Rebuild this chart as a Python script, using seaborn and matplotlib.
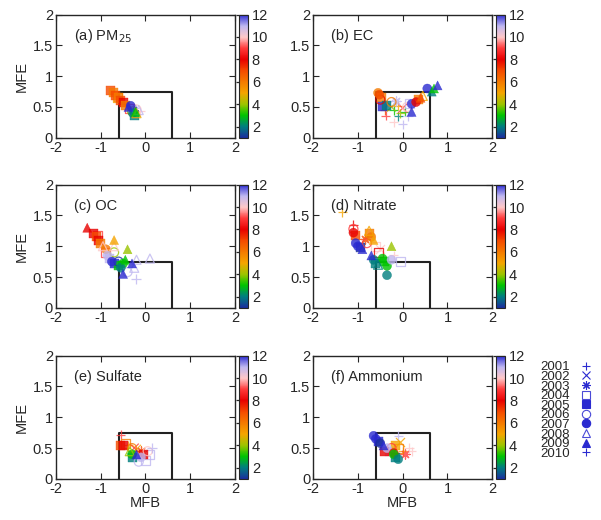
import pandas as pd
import matplotlib.pyplot as plt
import seaborn as sns
from matplotlib.colors import LinearSegmentedColormap, Normalize
from matplotlib.cm import ScalarMappable
from matplotlib.lines import Line2D

sns.set_style('ticks')
plt.rcParams['font.family'] = ['Liberation Sans', 'DejaVu Sans']
plt.rcParams['font.size'] = 10
plt.rcParams['axes.unicode_minus'] = False

# performance goal box
mfb_goal = 0.6
mfe_goal = 0.75

years = [2001, 2002, 2003, 2004, 2005, 2006, 2007, 2008, 2009, 2010]
year_markers = ['+', 'x', (8, 2, 0), 's', 's', 'o', 'o', '^', '^', '+']
year_open = [False, False, False, True, False, True, False, True, False, False]

month_colors = ['#1a2f9e', '#007f7f', '#00c400', '#9ec400', '#f5a500', '#f57a00',
                '#f54a00', '#e80000', '#ff3a3a', '#ffc8c8', '#c0b8f0', '#2a2ad0']

# (a) PM25
pm_mfb = [-0.78, -0.72, -0.66, -0.6, -0.55, -0.5, -0.45, -0.62, -0.38, -0.33, -0.3, -0.25,
          -0.2, -0.15, -0.28, -0.35, -0.28, -0.25, -0.22, -0.3, -0.2, -0.12]
pm_mfe = [0.77, 0.73, 0.69, 0.65, 0.61, 0.57, 0.53, 0.66, 0.5, 0.52, 0.47, 0.48,
          0.46, 0.45, 0.45, 0.48, 0.4, 0.37, 0.42, 0.43, 0.4, 0.43]
pm_month = [7, 6, 7, 6, 7, 8, 6, 5, 12, 12, 11, 11, 10, 11, 1, 9, 2, 2, 3, 4, 5, 10]
pm_year = [2005, 2005, 2005, 2005, 2005, 2005, 2005, 2004, 2009, 2007, 2002, 2001,
           2006, 2008, 2003, 2004, 2007, 2005, 2009, 2006, 2008, 2001]

# (b) EC
ec_mfb = [-0.55, -0.52, -0.48, -0.5, -0.45, -0.35, -0.4, -0.38, -0.2, 0.0, -0.3, -0.25,
          -0.2, -0.15, -0.1, -0.05, 0.0, 0.05, 0.1, 0.15, 0.2, 0.2, 0.12, 0.3, 0.35,
          0.45, 0.4, 0.55, 0.65, 0.7, 0.78, -0.25, -0.1]
ec_mfe = [0.73, 0.7, 0.65, 0.62, 0.5, 0.52, 0.45, 0.36, 0.25, 0.22, 0.55, 0.5,
          0.45, 0.6, 0.52, 0.4, 0.48, 0.42, 0.5, 0.55, 0.55, 0.42, 0.35, 0.58, 0.62,
          0.68, 0.65, 0.8, 0.75, 0.8, 0.85, 0.58, 0.35]
ec_month = [6, 7, 6, 8, 12, 2, 7, 9, 10, 11, 11, 4, 3, 11, 5, 4, 9, 3, 10, 11, 12, 12, 11,
            8, 6, 5, 7, 12, 2, 3, 12, 6, 2]
ec_year = [2007, 2007, 2005, 2006, 2005, 2005, 2001, 2001, 2001, 2010, 2002, 2002, 2001,
           2003, 2001, 2010, 2002, 2001, 2006, 2004, 2007, 2009, 2001, 2007, 2005, 2008,
           2009, 2007, 2009, 2009, 2009, 2006, 2001]

# (c) OC
oc_mfb = [-1.3, -1.15, -1.1, -1.05, -1.0, -1.08, -0.95, -0.7, -0.7, -0.4, -0.7, -0.88,
          -0.85, -0.8, -0.75, -0.7, -0.45, -0.5, -0.3, -0.5, 0.1, -0.2, -0.25, -0.4,
          -0.2, -0.6, -0.55, -0.9, -0.6]
oc_mfe = [1.3, 1.2, 1.15, 1.1, 1.05, 1.18, 1.0, 1.0, 1.1, 0.95, 0.9, 0.95,
          0.85, 0.8, 0.75, 0.72, 0.78, 0.72, 0.72, 0.55, 0.8, 0.78, 0.65, 0.58,
          0.47, 0.68, 0.65, 0.9, 0.75]
oc_month = [8, 8, 7, 8, 6, 9, 10, 10, 5, 4, 4, 6, 11, 11, 12, 12, 3, 3, 12, 12, 11, 11,
            11, 11, 11, 3, 2, 9, 1]
oc_year = [2009, 2005, 2005, 2005, 2005, 2004, 2008, 2008, 2009, 2009, 2006, 2007, 2007,
           2005, 2007, 2005, 2009, 2007, 2009, 2009, 2008, 2008, 2008, 2006, 2010, 2005,
           2007, 2004, 2006]

# (d) Nitrate
no_mfb = [-1.35, -1.1, -1.1, -1.1, -1.05, -1.05, -1.0, -0.95, -0.9, -0.75, -0.7, -0.65,
          -0.75, -0.6, -0.5, -0.25, -0.7, -0.65, -0.6, -0.55, -0.45, -0.4, -0.35, -0.35,
          -0.25, -0.05, -0.2, -0.85, -0.8, -0.55]
no_mfe = [1.55, 1.35, 1.28, 1.22, 1.18, 1.05, 1.0, 0.98, 0.95, 1.2, 1.15, 1.1,
          1.25, 1.0, 0.95, 1.0, 0.85, 0.78, 0.72, 0.7, 0.8, 0.75, 0.68, 0.53,
          0.78, 0.75, 0.85, 1.12, 1.05, 0.9]
no_month = [5, 8, 9, 8, 7, 12, 12, 1, 12, 6, 6, 5, 5, 10, 10, 4, 12, 2, 2, 2, 3, 3, 3, 2,
            11, 11, 10, 7, 9, 8]
no_year = [2001, 2001, 2006, 2007, 2005, 2007, 2007, 2005, 2009, 2005, 2007, 2009, 2008,
           2004, 2002, 2009, 2009, 2007, 2005, 2008, 2007, 2005, 2007, 2007, 2007, 2004,
           2001, 2003, 2006, 2004]

# (e) Sulfate
so_mfb = [-0.55, -0.5, -0.45, -0.55, -0.4, -0.3, -0.2, -0.35, -0.3, -0.3, -0.2, -0.1,
          0.0, -0.15, 0.1, 0.05, 0.15, -0.05, -0.1, -0.25]
so_mfe = [0.55, 0.55, 0.58, 0.72, 0.55, 0.5, 0.48, 0.45, 0.4, 0.35, 0.4, 0.35,
          0.3, 0.28, 0.4, 0.45, 0.5, 0.4, 0.45, 0.5]
so_month = [7, 8, 6, 9, 5, 6, 5, 4, 3, 2, 12, 11, 11, 11, 11, 10, 11, 8, 7, 9]
so_year = [2005, 2005, 2004, 2001, 2001, 2006, 2002, 2008, 2007, 2005, 2009, 2007, 2004,
           2006, 2004, 2006, 2010, 2005, 2003, 2002]

# (f) Ammonium
nh_mfb = [-0.65, -0.6, -0.55, -0.5, -0.45, -0.35, -0.3, -0.4, -0.2, -0.15, -0.1, 0.0,
          -0.2, -0.1, -0.15, 0.2, 0.15, -0.1, -0.05, -0.25, 0.05]
nh_mfe = [0.7, 0.65, 0.6, 0.58, 0.55, 0.5, 0.45, 0.45, 0.42, 0.55, 0.5, 0.45,
          0.4, 0.32, 0.35, 0.45, 0.5, 0.7, 0.6, 0.5, 0.4]
nh_month = [12, 12, 12, 1, 12, 11, 11, 8, 8, 5, 6, 5, 3, 2, 2, 10, 10, 11, 5, 9, 9]
nh_year = [2007, 2007, 2005, 2007, 2009, 2007, 2005, 2005, 2007, 2005, 2004, 2001, 2007,
           2007, 2005, 2001, 2010, 2001, 2002, 2006, 2003]

panels = [
    ('(a) PM$_{25}$', pm_mfb, pm_mfe, pm_month, pm_year),
    ('(b) EC', ec_mfb, ec_mfe, ec_month, ec_year),
    ('(c) OC', oc_mfb, oc_mfe, oc_month, oc_year),
    ('(d) Nitrate', no_mfb, no_mfe, no_month, no_year),
    ('(e) Sulfate', so_mfb, so_mfe, so_month, so_year),
    ('(f) Ammonium', nh_mfb, nh_mfe, nh_month, nh_year),
]

cmap = LinearSegmentedColormap.from_list(
    'months', [((m - 1) / 11, c) for m, c in zip(range(1, 13), month_colors)])
norm = Normalize(1, 12)

fig = plt.figure(figsize=(6.01, 5.20), dpi=100)
lefts = [0.093, 0.521]
bottoms = [0.735, 0.408, 0.079]
w, h = 0.298, 0.237

for i, (title, mfb, mfe, month, year) in enumerate(panels):
    row, col = i // 2, i % 2
    ax = fig.add_axes([lefts[col], bottoms[row], w, h])
    df = pd.DataFrame({'mfb': mfb, 'mfe': mfe, 'month': month, 'year': year})

    ax.plot([-mfb_goal, -mfb_goal, mfb_goal, mfb_goal], [0, mfe_goal, mfe_goal, 0],
            color='#222222', lw=1.5, zorder=1)

    for y, m, is_open in zip(years, year_markers, year_open):
        d = df[df['year'] == y]
        if len(d) == 0:
            continue
        sns.scatterplot(data=d, x='mfb', y='mfe', hue='month', palette=cmap, hue_norm=(1, 12),
                        marker=m, s=42, legend=False, ax=ax, alpha=0.8, zorder=3,
                        edgecolor='face' if not is_open else None, linewidth=0.9)
        coll = ax.collections[-1]
        cols = coll.get_facecolors()
        if is_open:
            coll.set_edgecolors(cols)
            coll.set_facecolors('none')
        elif isinstance(m, str) and m in ('s', 'o', '^'):
            coll.set_edgecolors(cols)
            coll.set_linewidth(0.3)

    ax.set_xlim(-2, 2)
    ax.set_ylim(0, 2)
    ax.set_xticks([-2, -1, 0, 1, 2])
    ax.set_yticks([0, 0.5, 1, 1.5, 2])
    ax.set_yticklabels(['0', '0.5', '1', '1.5', '2'])
    ax.tick_params(direction='in', top=True, right=True, length=4, labelsize=10.5, pad=2)
    for sp in ax.spines.values():
        sp.set_linewidth(1.0)
    ax.set_xlabel('MFB' if row == 2 else '', fontsize=10.5, labelpad=0)
    ax.set_ylabel('MFE' if col == 0 else '', fontsize=10.5, labelpad=3)
    ax.text(0.1, 0.83, title, transform=ax.transAxes, fontsize=10.5, va='center')

    cax = fig.add_axes([lefts[col] + w + 0.007, bottoms[row], 0.014, h])
    cb = fig.colorbar(ScalarMappable(norm=norm, cmap=cmap), cax=cax, ticks=[2, 4, 6, 8, 10, 12])
    cb.outline.set_linewidth(0.8)
    cax.tick_params(direction='in', length=8.5, width=0.9, labelsize=10.5, pad=3)

handles = []
for y, m, is_open in zip(years, year_markers, year_open):
    handles.append(Line2D([], [], linestyle='none', marker=m, color='#2a2ad0',
                          markerfacecolor='none' if is_open else '#2a2ad0',
                          markersize=6, markeredgewidth=0.8, alpha=0.85 if is_open else 1))
fig.legend(handles, [str(y) for y in years], loc='upper left', bbox_to_anchor=(0.888, 0.318),
           frameon=False, markerfirst=False, labelspacing=-0.2, handlelength=1.0,
           handletextpad=0.7, fontsize=9.5, borderpad=0)

fig.savefig('out.png', dpi=100)
